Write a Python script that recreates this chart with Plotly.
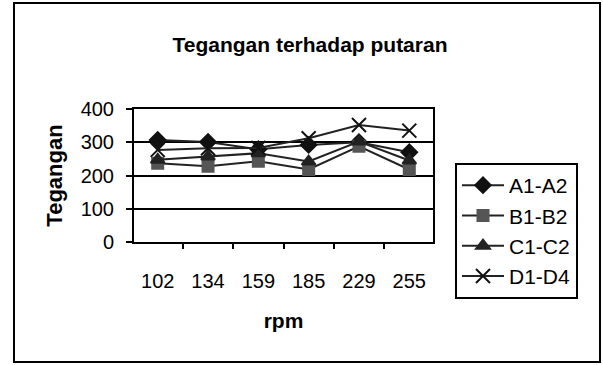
import plotly.graph_objects as go

rpm = ["102", "134", "159", "185", "229", "255"]
a1_a2 = [307, 301, 279, 292, 300, 270]
b1_b2 = [237, 228, 243, 218, 288, 218]
c1_c2 = [247, 257, 267, 242, 302, 245]
d1_d4 = [277, 282, 283, 312, 352, 335]

series = [
    ("A1-A2", a1_a2, "diamond", "#111111", 12),
    ("B1-B2", b1_b2, "square", "#555555", 11),
    ("C1-C2", c1_c2, "triangle-up", "#222222", 12),
    ("D1-D4", d1_d4, "x-thin", "#111111", 14),
]

fig = go.Figure()
for name, vals, sym, col, sz in series:
    fig.add_trace(go.Scatter(
        x=rpm, y=vals, name=name, mode="lines+markers",
        line=dict(color="#222222", width=2),
        marker=dict(symbol=sym, size=sz, color=col,
                    line=dict(color=col, width=2)),
    ))

L, R, T, B = 134, 433, 109, 242
W, H = 603, 365
pw, ph = R - L, B - T

fig.update_layout(
    width=W, height=H,
    margin=dict(l=L, r=W - R, t=T, b=H - B),
    paper_bgcolor="white", plot_bgcolor="white",
    font=dict(family="Liberation Sans, Arial, sans-serif", color="black", size=20),
    title=dict(text="<b>Tegangan terhadap putaran</b>", x=310 / W, xanchor="center",
               y=1 - 45 / H, yanchor="middle", font=dict(size=21)),
    showlegend=True,
    legend=dict(x=(455 - L) / pw, xanchor="left", y=(B - 163) / ph, yanchor="top",
                bordercolor="black", borderwidth=2, bgcolor="white",
                font=dict(size=21), tracegroupgap=0, itemwidth=42, maxheight=300),
    xaxis=dict(type="category", showline=True, linecolor="black", linewidth=2, mirror=True,
               ticks="outside", ticklen=5, tickcolor="black", tickwidth=2,
               tickson="boundaries", showgrid=False, ticklabelstandoff=20,
               title=dict(text="<b>rpm</b>", standoff=22, font=dict(size=21)),
               tickfont=dict(size=20)),
    yaxis=dict(range=[0, 400], dtick=100, showline=True, linecolor="black", linewidth=2,
               mirror=True, ticks="outside", ticklen=6, tickcolor="black", tickwidth=2,
               showgrid=True, gridcolor="black", gridwidth=2, zeroline=False,
               ticklabelstandoff=8,
               title=dict(text="<b>Tegangan</b>", standoff=12, font=dict(size=22)),
               tickfont=dict(size=20)),
    shapes=[dict(type="rect", xref="paper", yref="paper",
                 x0=(14 - L) / pw, x1=(600 - L) / pw,
                 y0=(B - 362) / ph, y1=(B - 3) / ph,
                 line=dict(color="black", width=2), layer="below")],
)

fig.write_html("out.html", config={"displayModeBar": False},
               post_script="document.body.style.margin='0';")
